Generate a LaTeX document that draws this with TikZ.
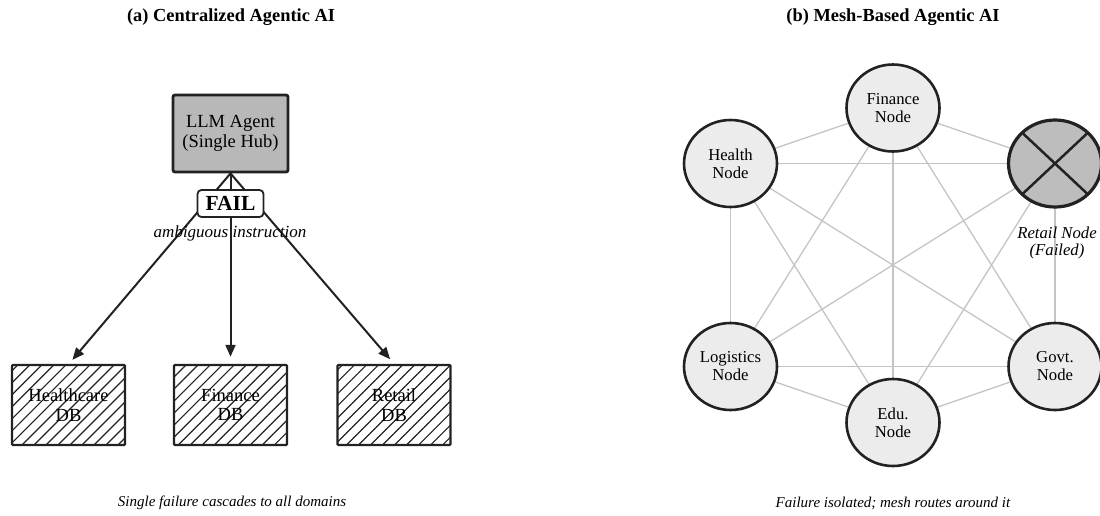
\documentclass[tikz,border=0pt]{standalone}
\usepackage{fontspec}
\setmainfont{Liberation Serif}
\usetikzlibrary{shapes.geometric,arrows.meta,patterns.meta,backgrounds}
\definecolor{edgec}{HTML}{222222}
\definecolor{hubfill}{HTML}{B8B8B8}
\definecolor{nodefill}{HTML}{ECECEC}
\definecolor{failfill}{HTML}{BDBDBD}
\definecolor{meshline}{HTML}{C4C4C4}
\tikzset{
  titletext/.style={font=\fontsize{18.4}{20}\selectfont\bfseries},
  captext/.style={font=\fontsize{15}{17}\selectfont\itshape},
  hubbox/.style={draw=edgec,fill=hubfill,line width=2.8pt,rounded corners=2pt,minimum width=115pt,minimum height=77pt,align=center,font=\fontsize{18.5}{20.5}\selectfont},
  dbbox/.style={draw=edgec,line width=2.4pt,rounded corners=1pt,minimum width=113pt,minimum height=80pt,align=center,font=\fontsize{18.5}{19.5}\selectfont,
    pattern={Lines[angle=45,distance=8.5pt,line width=1.2pt]},pattern color=edgec},
  failbox/.style={draw=edgec,fill=white,line width=1.8pt,rounded corners=4pt,minimum width=66pt,minimum height=27pt,inner sep=0pt,font=\fontsize{21.5}{22}\selectfont\bfseries},
  cascade/.style={draw=edgec,line width=2pt,-{Triangle[length=12pt,width=10pt]},shorten >=6pt},
  meshnode/.style={ellipse,draw=edgec,fill=nodefill,line width=2.6pt,minimum width=93pt,minimum height=87pt,inner sep=0pt,align=center,font=\fontsize{16.7}{18}\selectfont},
  failednode/.style={meshnode,fill=failfill,line width=3.2pt},
  meshedge/.style={draw=meshline,line width=1.3pt},
  crossline/.style={draw=edgec,line width=2.5pt,shorten <=2pt,shorten >=2pt},
}
\begin{document}
\begin{tikzpicture}[x=1pt,y=-1pt]
\useasboundingbox (0,0) rectangle (1100,515);
% ---------- (a) centralized ----------
\node[titletext] (ta) at (231,17) {(a) Centralized Agentic AI};
\node[hubbox] (llm) at (230.5,133.5) {LLM Agent\\(Single Hub)};
\node[dbbox] (hc) at (68.5,405) {Healthcare\\DB};
\node[dbbox] (fd) at (230.5,405) {Finance\\DB};
\node[dbbox] (rd) at (394,405) {Retail\\DB};
\draw[cascade] (llm.south) -- (hc.north);
\draw[cascade,shorten >=7pt] (llm.south) -- (fd.north);
\draw[cascade] (llm.south) -- (rd.north);
\node[failbox] (fail) at (230.5,203.5) {FAIL};
\node[font=\fontsize{17}{18}\selectfont\itshape] (amb) at (230,233) {ambiguous instruction};
\node[captext] (ca) at (232,503) {Single failure cascades to all domains};
% ---------- (b) mesh ----------
\node[titletext] (tb) at (893,17) {(b) Mesh-Based Agentic AI};
\node[meshnode] (fin) at (893,108) {Finance\\Node};
\node[meshnode] (hea) at (730.5,163.5) {Health\\Node};
\node[failednode] (ret) at (1055,163.5) {};
\node[meshnode] (log) at (730.5,366.5) {Logistics\\Node};
\node[meshnode] (gov) at (1055,366.5) {Govt.\\Node};
\node[meshnode] (edu) at (893,422.5) {Edu.\\Node};
\draw[crossline] (ret.north east) -- (ret.south west);
\draw[crossline] (ret.north west) -- (ret.south east);
\node[font=\fontsize{16.7}{17.7}\selectfont\itshape,align=center] (retlab) at (1057,243) {Retail Node\\(Failed)};
\begin{pgfonlayer}{background}
\foreach \a/\b in {fin/hea,fin/ret,fin/log,fin/gov,fin/edu,hea/ret,hea/log,hea/gov,hea/edu,ret/log,ret/gov,ret/edu,log/gov,log/edu,gov/edu}
  \draw[meshedge] (\a.center) -- (\b.center);
\end{pgfonlayer}
\node[captext] (cb) at (893,503) {Failure isolated; mesh routes around it};
\end{tikzpicture}
\end{document}
